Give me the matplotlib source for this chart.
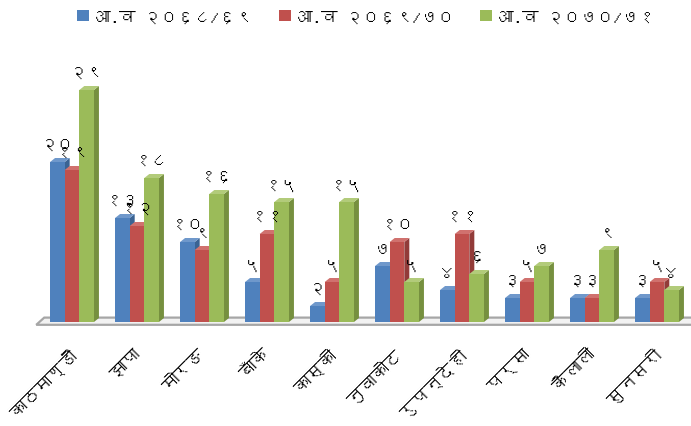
import matplotlib
matplotlib.use("Agg")
import matplotlib.pyplot as plt
from matplotlib.patches import Polygon
from matplotlib import font_manager as fm
from matplotlib.ft2font import FT2Font
import numpy as np

# ---------------- data ----------------
districts = ["काठमाण्डौं", "झापा", "मोरङ", "बाँके", "कास्की",
             "नुवाकोट", "रुपन्देही", "पर्सा", "कैलाली", "सुनसरी"]
series_names = ["आ.व २०६८/६९", "आ.व २०६९/७०", "आ.व २०७०/७१"]
fy_2068_69 = [20, 13, 10, 5, 2, 7, 4, 3, 3, 3]
fy_2069_70 = [19, 12, 9, 11, 5, 10, 11, 5, 3, 5]
fy_2070_71 = [29, 18, 16, 15, 15, 5, 6, 7, 9, 4]

# ---------------- fonts ----------------
def find_font(ch="क"):
    seen = set()
    for f in fm.fontManager.ttflist:
        if f.fname in seen:
            continue
        seen.add(f.fname)
        try:
            if ord(ch) in FT2Font(f.fname).get_charmap():
                return f.name
        except Exception:
            pass
    return None

deva = find_font()
families = ([deva] if deva else []) + ["DejaVu Sans"]
plt.rcParams["font.family"] = families

DEVA_DIGITS = str.maketrans("0123456789", "०१२३४५६७८९")
def to_deva(n):
    return str(n).translate(DEVA_DIGITS)

# ---------------- figure ----------------
W, H = 691, 427
fig = plt.figure(figsize=(W / 100, H / 100), dpi=100)
ppu = 8.0            # pixels per data unit (vertical)
base_px = 104        # baseline pixel from bottom
ymin = -1.5
ymax = (H - base_px) / ppu
bottom_px = base_px + ymin * ppu
ax = fig.add_axes([0, bottom_px / H, 1, (H - bottom_px) / H])
ax.set_ylim(ymin, ymax)
spacing_px = 65.0
first_px = 72.0
ax.set_xlim(-first_px / spacing_px, (W - first_px) / spacing_px)
ax.axis("off")

colors = ["#4F81BD", "#C0504D", "#9BBB59"]
sides = ["#3A6393", "#923B39", "#76903F"]
tops = ["#6F98CB", "#D0716E", "#B2CB7A"]

x = np.arange(len(districts))
bw = 0.225
dx = 5 / spacing_px
dy = 4 / ppu

# floor
fx0, fx1 = -0.55, len(districts) - 0.45
floor = Polygon([[fx0, -0.35], [fx1, -0.35], [fx1 + dx * 1.6, 0.55], [fx0 + dx * 1.6, 0.55]],
                closed=True, facecolor="#F2F2F2", edgecolor="#A6A6A6", lw=1.6, zorder=1)
ax.add_patch(floor)

all_series = [fy_2068_69, fy_2069_70, fy_2070_71]
order = [2, 1, 0]
for k in order:
    vals = all_series[k]
    xs = x + (k - 1) * bw
    for xi, v in zip(xs, vals):
        l, r = xi - bw / 2, xi + bw / 2
        z = 3 + k * 0.1
        side = Polygon([[r, 0], [r + dx, dy], [r + dx, v + dy], [r, v]],
                       closed=True, facecolor=sides[k], edgecolor="none", zorder=z)
        top = Polygon([[l, v], [r, v], [r + dx, v + dy], [l + dx, v + dy]],
                      closed=True, facecolor=tops[k], edgecolor="none", zorder=z)
        ax.add_patch(side)
        ax.add_patch(top)
    ax.bar(xs, vals, width=bw, color=colors[k], zorder=3 + k * 0.1 + 0.05,
           label=series_names[k])
    for xi, v in zip(xs, vals):
        ax.text(xi, v + 1.3, to_deva(v), ha="center", va="bottom",
                fontsize=12, color="black", zorder=10)

# category labels
for xi, name in zip(x, districts):
    ax.text(xi - 0.06, -3.0, name, rotation=45, ha="right", va="top",
            rotation_mode="anchor", fontsize=12.5, color="black")

# legend
handles, labels = ax.get_legend_handles_labels()
hmap = dict(zip(labels, handles))
fig.legend([hmap[n] for n in series_names], series_names, loc="upper center",
           bbox_to_anchor=(0.53, 1.01), ncol=3, frameon=False, fontsize=12,
           handlelength=0.7, handleheight=0.7, handletextpad=0.3, columnspacing=1.6)

fig.savefig("out.png", dpi=100)
